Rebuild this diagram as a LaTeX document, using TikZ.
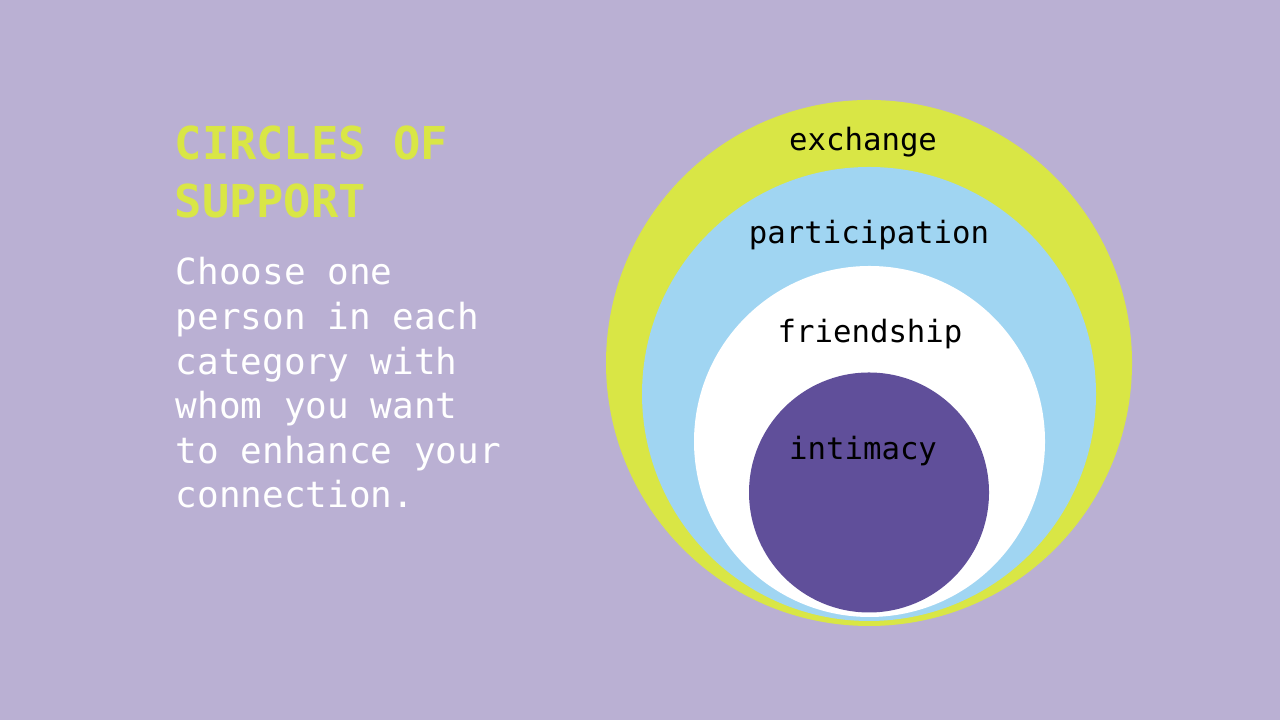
\documentclass[tikz,border=0pt]{standalone}
\usepackage{fontspec}
\newfontfamily\slidefont{DejaVu Sans Mono}
\definecolor{bgcol}{RGB}{186,176,211}
\definecolor{limecol}{RGB}{217,230,69}
\definecolor{skycol}{RGB}{160,213,242}
\definecolor{grapecol}{RGB}{96,79,154}

\tikzset{ring/.style={circle,inner sep=0pt,draw=none}}
\tikzset{ringlabel/.style={anchor=base,inner sep=0pt,
                           font=\slidefont\fontsize{8.74}{10}\selectfont}}
\tikzset{heading/.style={anchor=base west,inner sep=0pt,text=limecol,
                         font=\slidefont\bfseries\fontsize{12.9}{16}\selectfont}}
\tikzset{body/.style={anchor=base west,inner sep=0pt,text=white,
                      font=\slidefont\fontsize{10.24}{12.7}\selectfont}}

\begin{document}
\begin{tikzpicture}
    \fill[bgcol] (0,0) rectangle (12.8,7.2);
    \useasboundingbox (0,0) rectangle (12.8,7.2);
    % Circles
    \node[ring,fill=limecol,minimum size=5.26cm]  (exch)  at (8.69,3.57)  {};
    \node[ring,fill=skycol,minimum size=4.54cm]   (part)  at (8.69,3.26)  {};
    \node[ring,fill=white,minimum size=3.51cm]    (frnd)  at (8.695,2.785) {};
    \node[ring,fill=grapecol,minimum size=2.40cm] (intim) at (8.69,2.275) {};
    % Labels
    \node[ringlabel] (lexch)  at (8.63,5.69) {exchange};
    \node[ringlabel] (lpart)  at (8.69,4.76) {participation};
    \node[ringlabel] (lfrnd)  at (8.70,3.77) {friendship};
    \node[ringlabel] (lintim) at (8.63,2.60) {intimacy};
    % Text
    \foreach \h [count=\hi] in {CIRCLES OF,SUPPORT}{%
          \node[heading] (t\hi) at (1.74,{5.60-(\hi-1)*0.58}) {\h};
        }
    \foreach \h [count=\hi] in {Choose one,person in each,category with,
                                whom you want,to enhance your,connection.}{%
          \node[body] (b\hi) at (1.75,{4.35-(\hi-1)*0.446}) {\h};
        }
\end{tikzpicture}
\end{document}
